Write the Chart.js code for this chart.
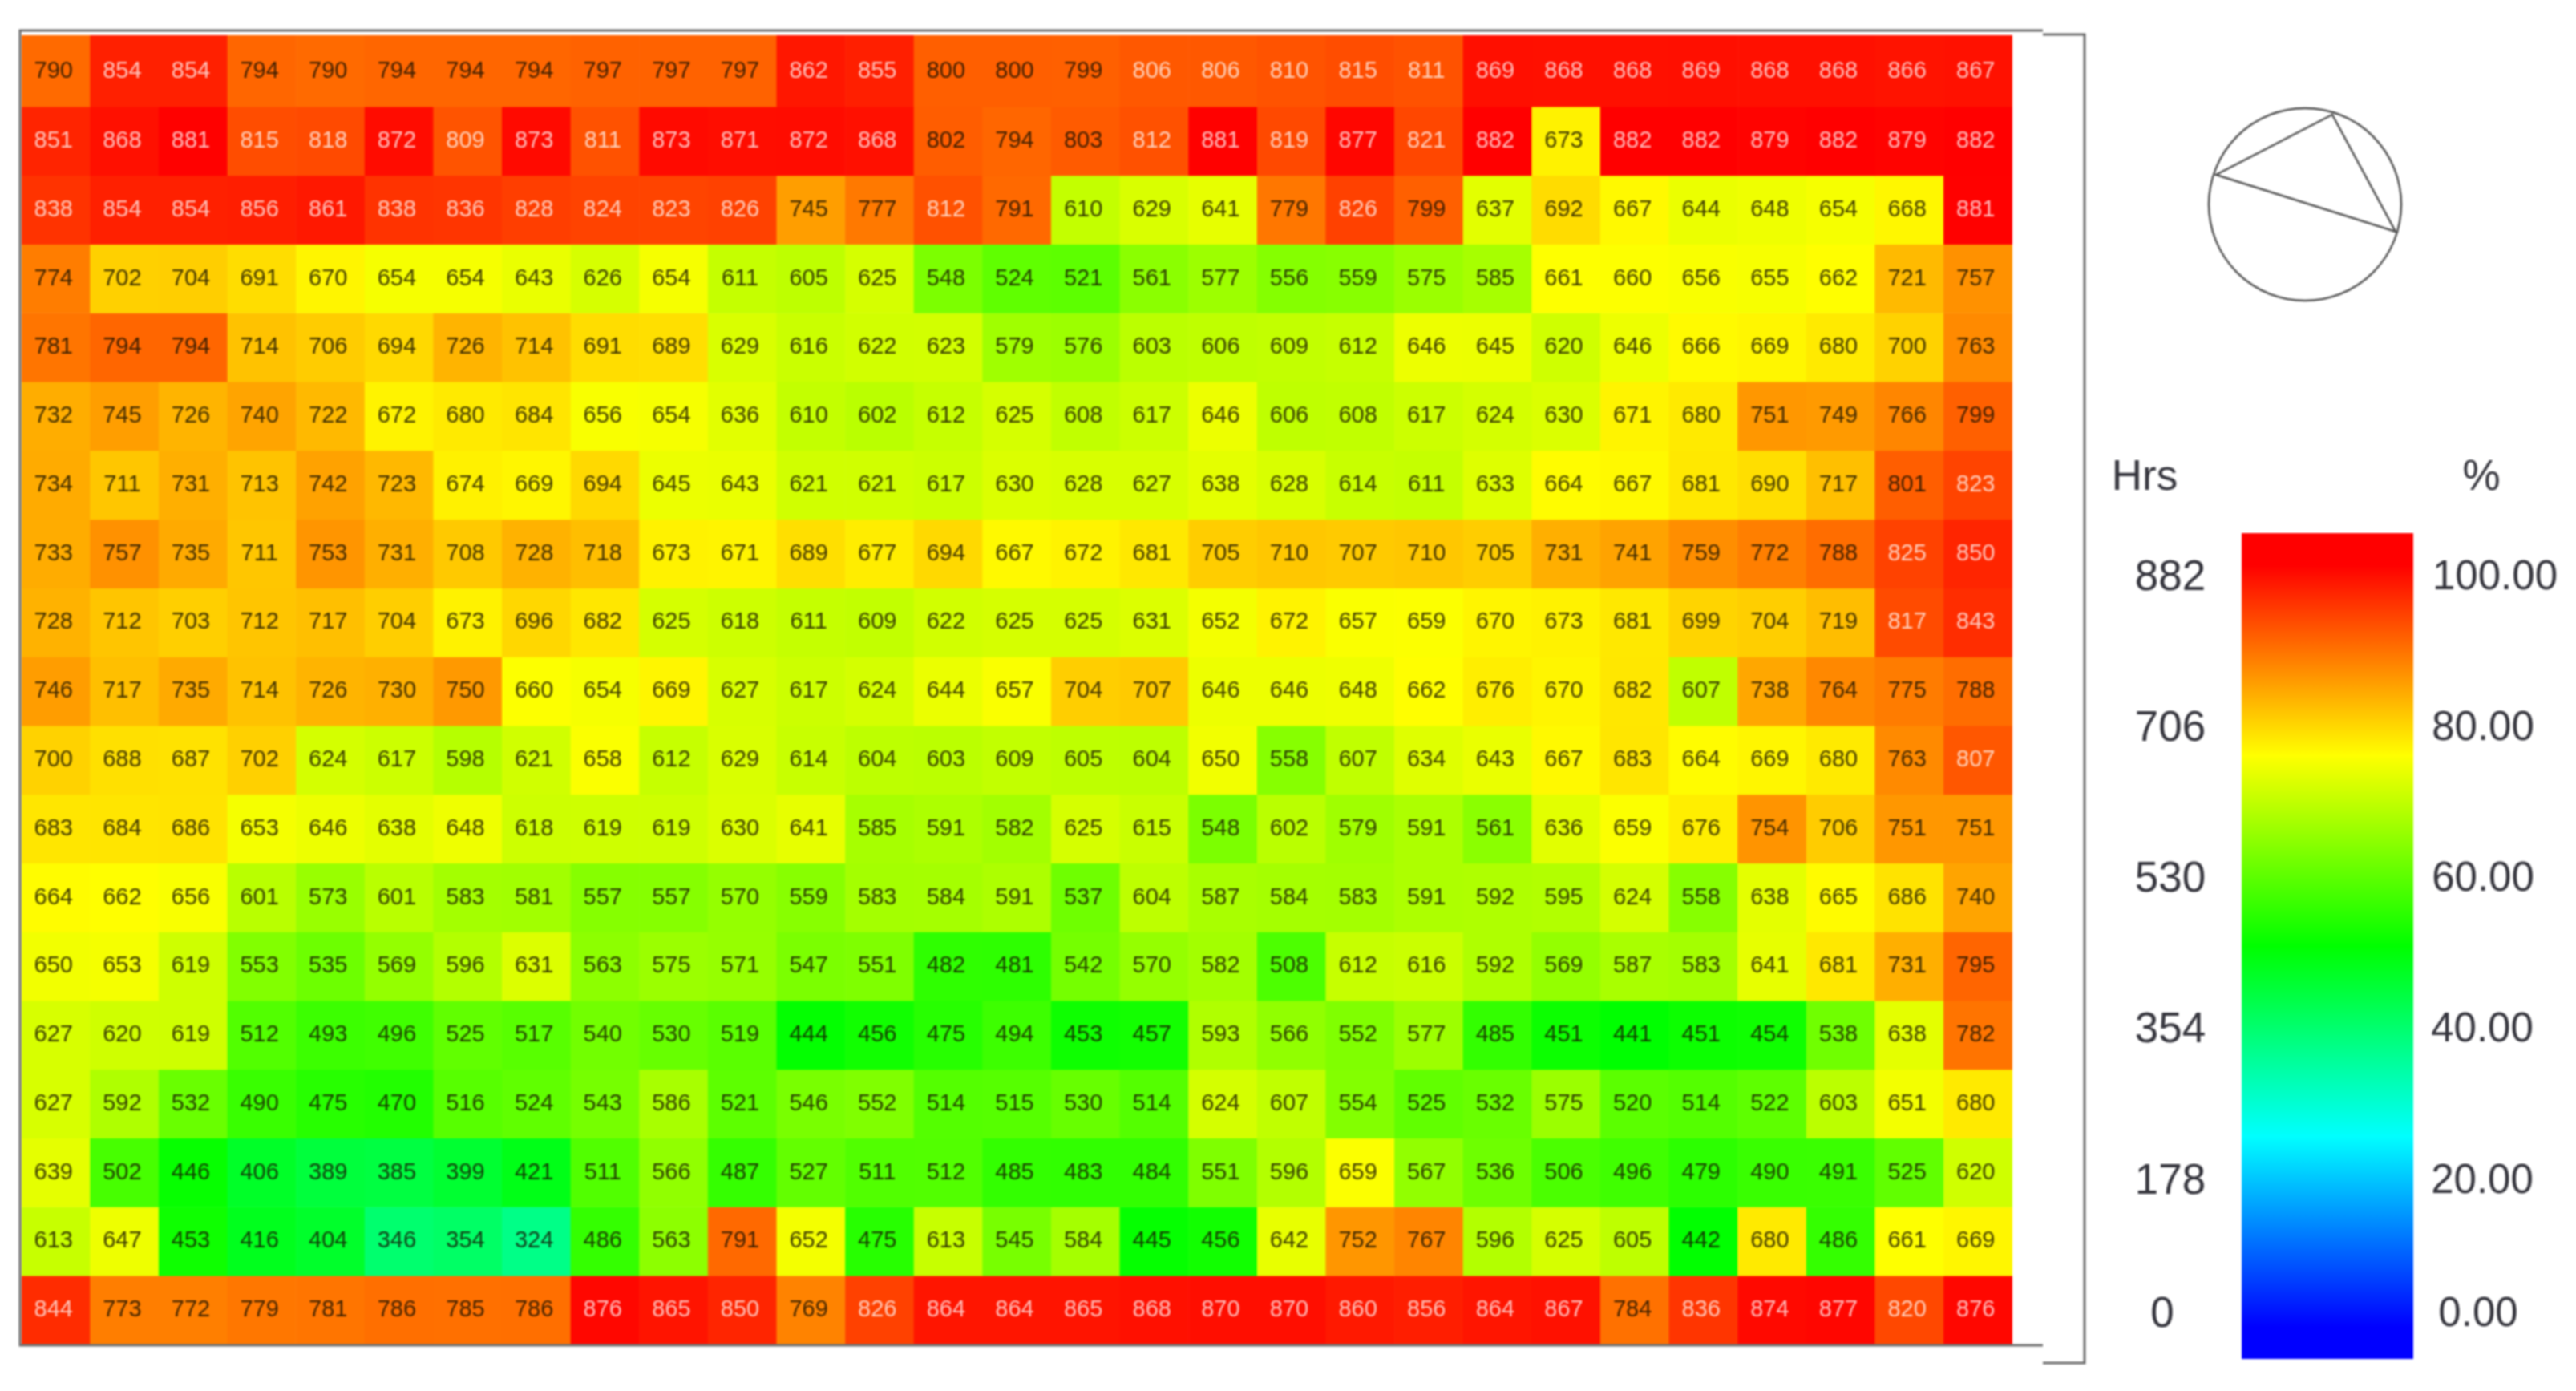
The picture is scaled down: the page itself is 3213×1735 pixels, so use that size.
<!DOCTYPE html>
<html>
<head>
<meta charset="utf-8">
<title>Hours heatmap</title>
<script src="https://cdn.jsdelivr.net/npm/chart.js@4"></script>
<style>
    html, body { margin: 0; padding: 0; background: #fff; }
    #page { position: relative; width: 3213px; height: 1735px; overflow: hidden; }
    canvas { position: absolute; filter: blur(0.8px); }
    #heatmap { left: 0; top: 0; }
    #colorbar { left: 2796px; top: 665px; }
</style>
</head>
<body>
<div id="page">
    <canvas id="heatmap" width="3213" height="1735"></canvas>
    <canvas id="colorbar" width="214" height="1030"></canvas>
</div>
<script>
const colLabels = ['1','2','3','4','5','6','7','8','9','10','11','12','13','14','15','16','17','18','19','20','21','22','23','24','25','26','27','28','29'];

const row01 = [790,854,854,794,790,794,794,794,797,797,797,862,855,800,800,799,806,806,810,815,811,869,868,868,869,868,868,866,867];
const row02 = [851,868,881,815,818,872,809,873,811,873,871,872,868,802,794,803,812,881,819,877,821,882,673,882,882,879,882,879,882];
const row03 = [838,854,854,856,861,838,836,828,824,823,826,745,777,812,791,610,629,641,779,826,799,637,692,667,644,648,654,668,881];
const row04 = [774,702,704,691,670,654,654,643,626,654,611,605,625,548,524,521,561,577,556,559,575,585,661,660,656,655,662,721,757];
const row05 = [781,794,794,714,706,694,726,714,691,689,629,616,622,623,579,576,603,606,609,612,646,645,620,646,666,669,680,700,763];
const row06 = [732,745,726,740,722,672,680,684,656,654,636,610,602,612,625,608,617,646,606,608,617,624,630,671,680,751,749,766,799];
const row07 = [734,711,731,713,742,723,674,669,694,645,643,621,621,617,630,628,627,638,628,614,611,633,664,667,681,690,717,801,823];
const row08 = [733,757,735,711,753,731,708,728,718,673,671,689,677,694,667,672,681,705,710,707,710,705,731,741,759,772,788,825,850];
const row09 = [728,712,703,712,717,704,673,696,682,625,618,611,609,622,625,625,631,652,672,657,659,670,673,681,699,704,719,817,843];
const row10 = [746,717,735,714,726,730,750,660,654,669,627,617,624,644,657,704,707,646,646,648,662,676,670,682,607,738,764,775,788];
const row11 = [700,688,687,702,624,617,598,621,658,612,629,614,604,603,609,605,604,650,558,607,634,643,667,683,664,669,680,763,807];
const row12 = [683,684,686,653,646,638,648,618,619,619,630,641,585,591,582,625,615,548,602,579,591,561,636,659,676,754,706,751,751];
const row13 = [664,662,656,601,573,601,583,581,557,557,570,559,583,584,591,537,604,587,584,583,591,592,595,624,558,638,665,686,740];
const row14 = [650,653,619,553,535,569,596,631,563,575,571,547,551,482,481,542,570,582,508,612,616,592,569,587,583,641,681,731,795];
const row15 = [627,620,619,512,493,496,525,517,540,530,519,444,456,475,494,453,457,593,566,552,577,485,451,441,451,454,538,638,782];
const row16 = [627,592,532,490,475,470,516,524,543,586,521,546,552,514,515,530,514,624,607,554,525,532,575,520,514,522,603,651,680];
const row17 = [639,502,446,406,389,385,399,421,511,566,487,527,511,512,485,483,484,551,596,659,567,536,506,496,479,490,491,525,620];
const row18 = [613,647,453,416,404,346,354,324,486,563,791,652,475,613,545,584,445,456,642,752,767,596,625,605,442,680,486,661,669];
const row19 = [844,773,772,779,781,786,785,786,876,865,850,769,826,864,864,865,868,870,870,860,856,864,867,784,836,874,877,820,876];
const rows = [row01,row02,row03,row04,row05,row06,row07,row08,row09,row10,row11,row12,row13,row14,row15,row16,row17,row18,row19];

const legendHours = ['882','706','530','354','178','0'];
const legendPercent = ['100.00','80.00','60.00','40.00','20.00','0.00'];
const maxHours = 882;
const colorStops = [[0, [0,0,255]], [25, [0,255,255]], [50, [0,255,0]], [75, [255,255,0]], [100, [255,0,0]]];

const FONT = '"Liberation Sans", Arial, sans-serif';
const LINE = '#6e6e6e';
const LEGEND_TEXT = '#34343c';
const legendY = [721, 909, 1097, 1285, 1474, 1640];
const legendHoursX = [2707, 2707, 2707, 2707, 2707, 2697];
const legendPercentX = [3112, 3097, 3097, 3096, 3096, 3091];

function percentColor(pct) {
    for (let i = 1; i < colorStops.length; i++) {
        if (pct <= colorStops[i][0]) {
            const [p0, c0] = colorStops[i - 1];
            const [p1, c1] = colorStops[i];
            const t = (pct - p0) / (p1 - p0);
            const rgb = c0.map((v, k) => Math.round(v + (c1[k] - v) * t));
            return `rgb(${rgb.join(',')})`;
        }
    }
    return 'rgb(255,0,0)';
}

function hoursColor(h) {
    return percentColor(h / maxHours * 100);
}

// cell values, read from each bar element
const cellLabels = {
    id: 'cellLabels',
    afterDatasetsDraw(chart) {
        const ctx = chart.ctx;
        ctx.save();
        ctx.font = '29px ' + FONT;
        ctx.textAlign = 'center';
        ctx.textBaseline = 'middle';
        chart.data.datasets.forEach((ds, r) => {
            chart.getDatasetMeta(r).data.forEach((bar, c) => {
                const h = ds.hours[c];
                ctx.fillStyle = h > 805 ? 'rgba(255,255,255,0.72)' : 'rgba(20,15,0,0.8)';
                ctx.fillText(String(h), bar.x - 3, (bar.y + bar.base) / 2);
            });
        });
        ctx.restore();
    }
};

// frame lines, sun path circle, legend text
const decorations = {
    id: 'decorations',
    afterDraw(chart) {
        const ctx = chart.ctx;
        ctx.save();
        ctx.strokeStyle = LINE;
        ctx.lineWidth = 3;
        ctx.beginPath();
        ctx.moveTo(2548, 38);
        ctx.lineTo(25, 38);
        ctx.lineTo(25, 1678);
        ctx.lineTo(2548, 1678);
        ctx.moveTo(2548, 43);
        ctx.lineTo(2600, 43);
        ctx.lineTo(2600, 1700);
        ctx.lineTo(2548, 1700);
        ctx.stroke();

        ctx.strokeStyle = '#4a4a4a';
        ctx.lineWidth = 2.4;
        ctx.beginPath();
        ctx.arc(2875, 255, 120, 0, Math.PI * 2);
        ctx.moveTo(2909, 143);
        ctx.lineTo(2764, 218);
        ctx.lineTo(2988, 289);
        ctx.closePath();
        ctx.stroke();

        ctx.fillStyle = LEGEND_TEXT;
        ctx.font = '53px ' + FONT;
        ctx.textBaseline = 'middle';
        ctx.textAlign = 'center';
        ctx.fillText('Hrs', 2675, 596);
        ctx.fillText('%', 3095, 596);
        legendHours.forEach((t, i) => ctx.fillText(t, legendHoursX[i], legendY[i]));
        ctx.font = '51px ' + FONT;
        legendPercent.forEach((t, i) => ctx.fillText(t, legendPercentX[i], legendY[i]));
        ctx.restore();
    }
};

const yTop = -0.04;

new Chart(document.getElementById('heatmap'), {
    type: 'bar',
    data: {
        labels: colLabels,
        datasets: rows.map((row, r) => ({
            label: 'row ' + (r + 1),
            hours: row,
            data: row.map(() => [r === 0 ? yTop : r, r + 1]),
            backgroundColor: row.map(hoursColor),
            borderWidth: 0,
            grouped: false,
            barPercentage: 1,
            categoryPercentage: 1
        }))
    },
    options: {
        responsive: false,
        animation: false,
        layout: { padding: { left: 27, top: 44, right: 703, bottom: 58 } },
        plugins: { legend: { display: false }, tooltip: { enabled: false } },
        scales: {
            x: { display: false, grid: { display: false } },
            y: { display: false, reverse: true, min: yTop, max: rows.length, grid: { display: false } }
        }
    },
    plugins: [cellLabels, decorations]
});

// y range of the bar runs a little past 0 and 100, the ends stay pure blue and red
const barBottom = -4.2;
const barTop = 104.2;

new Chart(document.getElementById('colorbar'), {
    type: 'bar',
    data: {
        labels: ['%'],
        datasets: [{
            data: [[barBottom, barTop]],
            borderWidth: 0,
            barPercentage: 1,
            categoryPercentage: 1,
            backgroundColor(context) {
                const scale = context.chart.scales.y;
                const y0 = scale.getPixelForValue(0);
                const y100 = scale.getPixelForValue(100);
                if (!isFinite(y0) || !isFinite(y100)) return 'transparent';
                const grad = context.chart.ctx.createLinearGradient(0, y0, 0, y100);
                colorStops.forEach(([p]) => grad.addColorStop(p / 100, percentColor(p)));
                return grad;
            }
        }]
    },
    options: {
        responsive: false,
        animation: false,
        plugins: { legend: { display: false }, tooltip: { enabled: false } },
        scales: {
            x: { display: false },
            y: { display: false, min: barBottom, max: barTop }
        }
    }
});
</script>
</body>
</html>
